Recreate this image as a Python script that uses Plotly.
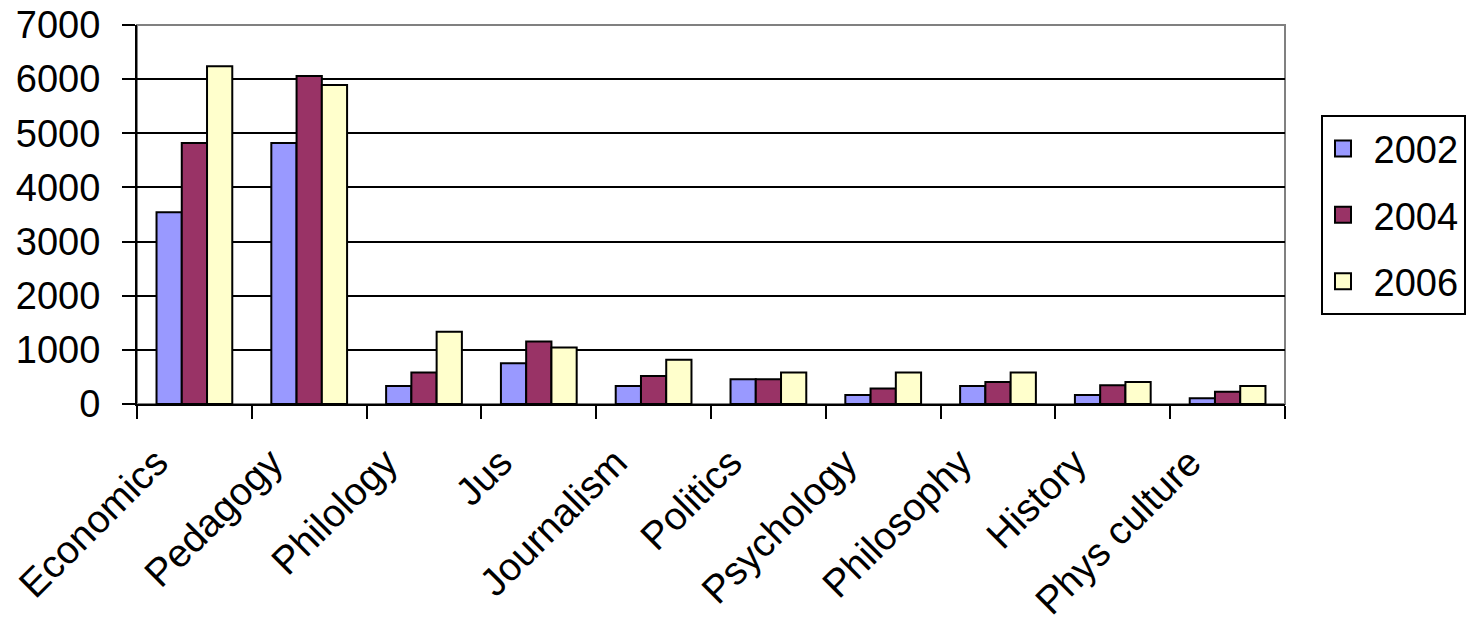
import plotly.graph_objects as go

categories = ["Economics", "Pedagogy", "Philology", "Jus", "Journalism",
              "Politics", "Psychology", "Philosophy", "History", "Phys culture"]
years = ["2002", "2004", "2006"]
v2002 = [3540, 4820, 333, 753, 333, 457, 167, 333, 167, 105]
v2004 = [4820, 6060, 580, 1155, 519, 457, 284, 407, 346, 228]
v2006 = [6240, 5890, 1333, 1043, 815, 580, 580, 580, 407, 333]
colors = ["#9999FF", "#993366", "#FFFFCC"]
y_ticks = [0, 1000, 2000, 3000, 4000, 5000, 6000, 7000]

fig = go.Figure()
for i, (yr, vals) in enumerate(zip(years, [v2002, v2004, v2006])):
    fig.add_trace(go.Bar(
        x=categories, y=vals, name=yr, showlegend=False,
        marker=dict(color=colors[i], line=dict(color="black", width=2)),
    ))
# legend entries with larger square swatches
for i, yr in enumerate(years):
    fig.add_trace(go.Scatter(
        x=[None], y=[None], mode="markers", name="\u00a0" + yr, legendgroup=yr,
        marker=dict(symbol="square", size=22, color=colors[i],
                    line=dict(color="black", width=2)),
    ))

fig.update_layout(
    width=1468, height=625,
    margin=dict(l=137, r=183, t=25, b=221, autoexpand=False),
    paper_bgcolor="white", plot_bgcolor="white",
    barmode="group", bargap=0.34, bargroupgap=0,
    font=dict(family="Liberation Sans, Arial", size=38, color="black"),
    showlegend=True,
    legend=dict(
        x=(1466 - 137) / 1148, y=0.762, xanchor="right", yanchor="top",
        bordercolor="black", borderwidth=2, bgcolor="white",
        font=dict(size=38), tracegroupgap=14, itemsizing="trace",
    ),
    shapes=[dict(type="rect", xref="paper", yref="paper", x0=0, x1=1, y0=0, y1=1,
                 line=dict(color="#808080", width=2), layer="below")],
)
fig.update_xaxes(
    type="category", tickangle=-45, tickson="boundaries",
    ticks="outside", ticklen=13, tickwidth=2, tickcolor="black",
    showline=True, linecolor="black", linewidth=2, showgrid=False,
    tickfont=dict(size=39), automargin=False,
    ticklabelshift=-38, ticklabelstandoff=18, ticklabeloverflow="allow",
)
fig.update_yaxes(
    range=[0, 7000], tickvals=y_ticks, ticktext=[str(t) for t in y_ticks],
    ticks="outside", ticklen=13, tickwidth=2, tickcolor="black",
    showline=True, linecolor="black", linewidth=2,
    showgrid=True, gridcolor="black", gridwidth=2, zeroline=False,
    tickfont=dict(size=38), automargin=False, ticklabelstandoff=14,
    ticklabeloverflow="allow",
)

fig.write_html("out.html", config={"displayModeBar": False},
               post_script="document.body.style.margin='0';")
